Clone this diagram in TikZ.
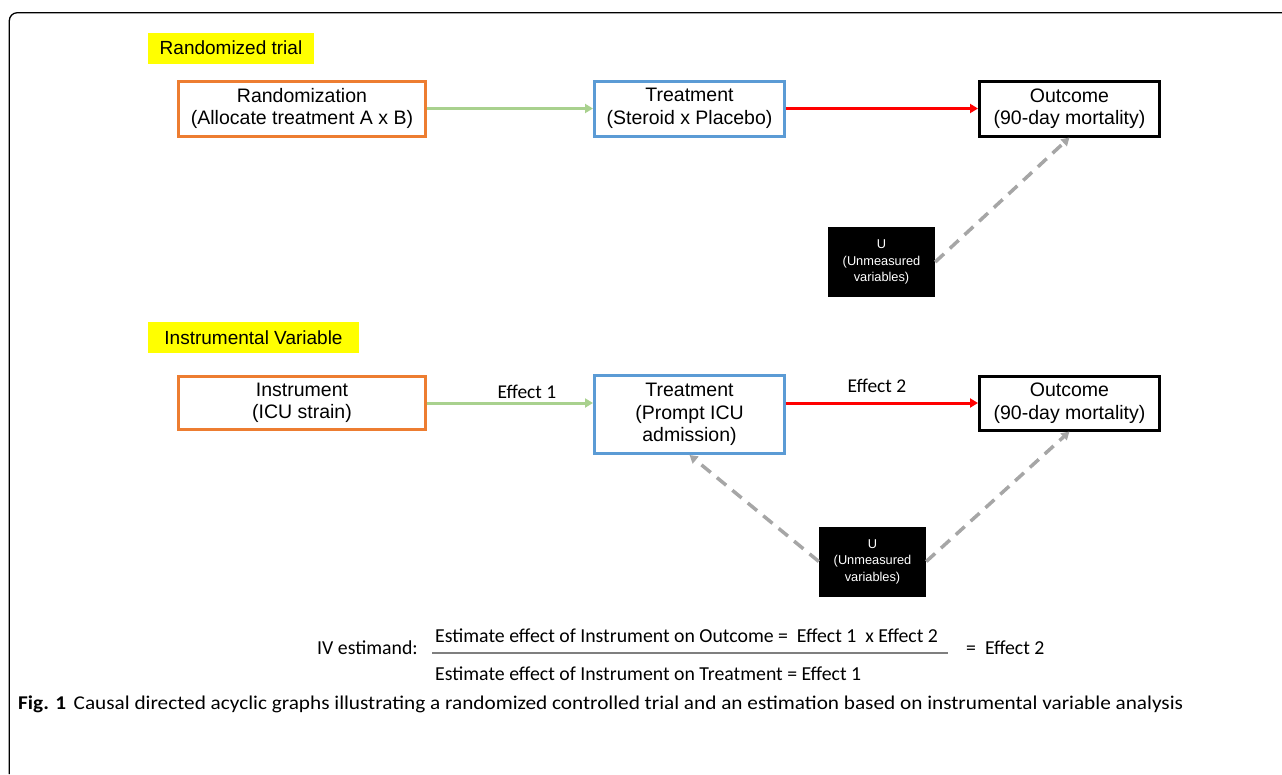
\documentclass[tikz,border=0pt]{standalone}
\usepackage{fontspec}
\setmainfont{Liberation Sans}
\newfontfamily\calib{Carlito}
\usetikzlibrary{arrows.meta}
\definecolor{orng}{HTML}{ED7D31}
\definecolor{blu}{HTML}{5B9BD5}
\definecolor{grn}{HTML}{A9D18E}
\definecolor{rd}{HTML}{FF0000}
\definecolor{gry}{HTML}{A6A6A6}
\definecolor{ylw}{HTML}{FFFF00}
\definecolor{fracgray}{HTML}{7F7F7F}
\tikzset{
  boxtext/.style={font=\fontsize{19.5}{22.5}\selectfont, align=center, inner sep=0pt},
  mainbox/.style={boxtext, draw, line width=3pt, fill=white, minimum height=55pt},
  orangebox/.style={mainbox, draw=orng, minimum width=247pt},
  bluebox/.style={mainbox, draw=blu, minimum width=190pt},
  blackbox/.style={mainbox, draw=black, minimum width=180pt},
  hilite/.style={fill=ylw, inner sep=0pt, minimum height=31pt, font=\fontsize{19}{22}\selectfont},
  ubox/.style={fill=black, text=white, inner sep=0pt, minimum width=107pt, minimum height=70pt, align=center, font=\fontsize{12.8}{16.5}\selectfont},
  tip/.style={-{Triangle[length=8pt,width=9pt]}},
  greenarrow/.style={tip, draw=grn, line width=3pt},
  redarrow/.style={tip, draw=rd, line width=3pt},
  dasharrow/.style={tip, draw=gry, line width=3.5pt, dash pattern=on 12pt off 8pt},
  calibtext/.style={font=\calib\fontsize{19.8}{22}\selectfont, inner sep=0pt, anchor=base west},
  efflabel/.style={font=\calib\fontsize{19.5}{22}\selectfont, inner sep=0pt, anchor=base},
}
\begin{document}
\begin{tikzpicture}[x=1pt, y=-1pt]
\useasboundingbox (0,0) rectangle (1282,774);
% frame
\draw[line width=1.3pt, rounded corners=8pt] (9.3,774) -- (9.3,12.7) -- (1282,12.7);

% Randomized trial
\node[hilite, minimum width=166pt] (hlA) at (231,48) {Randomized trial};
\node[orangebox] (rand) at (302,108.5) {Randomization\\(Allocate treatment A x B)};
\node[bluebox] (trtA) at (689.5,108.5) {Treatment\\(Steroid x Placebo)};
\node[blackbox] (outA) at (1069.5,108.5) {Outcome\\(90-day mortality)};
\node[ubox] (uA) at (881.5,262) {U\\(Unmeasured\\variables)};
\draw[greenarrow] (rand.east) -- (trtA.west);
\draw[redarrow] (trtA.east) -- (outA.west);
\draw[dasharrow] (uA.east) -- (outA.south);

% Instrumental Variable
\node[hilite, minimum width=211pt] (hlB) at (253.5,337.5) {Instrumental Variable};
\node[orangebox, minimum height=53pt] (inst) at (302,403) {Instrument\\(ICU strain)};
\node[bluebox, minimum height=78pt] (trtB) at (689.5,414.5) {Treatment\\(Prompt ICU\\admission)};
\node[blackbox, minimum height=54pt] (outB) at (1069.5,403) {Outcome\\(90-day mortality)};
\node[ubox] (uB) at (872.5,561.5) {U\\(Unmeasured\\variables)};
\draw[greenarrow] (inst.east) -- (inst.east -| trtB.west);
\draw[redarrow] (outB.west -| trtB.east) -- (outB.west);
\node[efflabel] (e1) at (527,398) {Effect 1};
\node[efflabel] (e2) at (877,392) {Effect 2};
\draw[dasharrow] (uB.west) -- (trtB.south);
\draw[dasharrow] (uB.east) -- (outB.south);

% IV estimand
\node[calibtext] (ivl) at (317,654) {IV estimand:};
\node[calibtext] (num) at (435,642) {Estimate effect of Instrument on Outcome =\ \ Effect 1\ \ x Effect 2};
\node[calibtext] (den) at (435,680) {Estimate effect of Instrument on Treatment = Effect 1};
\coordinate (fl) at (432,653);
\coordinate (fr) at (948,653);
\draw[fracgray, line width=1.6pt] (fl) -- (fr);
\node[calibtext] (res) at (966,654) {=\ \ Effect 2};

% caption
\node[inner sep=0pt, anchor=base west, font=\calib\fontsize{19.5}{22}\selectfont] (cap) at (18,709) {\resizebox{1165pt}{\height}{\textbf{Fig. 1}\hspace{7pt}Causal directed acyclic graphs illustrating a randomized controlled trial and an estimation based on instrumental variable analysis}};
\end{tikzpicture}
\end{document}
